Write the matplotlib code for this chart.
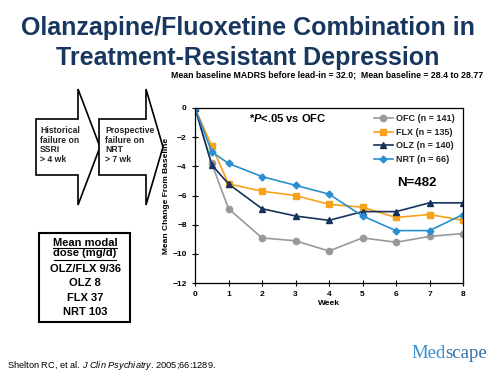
import matplotlib
matplotlib.use("Agg")
import matplotlib.pyplot as plt
from matplotlib.patches import Polygon, Rectangle

plt.rcParams['font.family'] = ['Liberation Sans', 'DejaVu Sans']
plt.rcParams['mathtext.fontset'] = 'custom'
plt.rcParams['mathtext.it'] = 'Liberation Sans:italic'
plt.rcParams['mathtext.bfit'] = 'Liberation Sans:italic:bold'
plt.rcParams['mathtext.rm'] = 'Liberation Sans'

weeks = [0, 0.5, 1, 2, 3, 4, 5, 6, 7, 8]
ofc = [0, -3.8, -6.9, -8.9, -9.1, -9.8, -8.9, -9.2, -8.8, -8.6]
flx = [0, -2.6, -5.2, -5.7, -6.0, -6.6, -6.8, -7.5, -7.3, -7.7]
olz = [0, -3.9, -5.2, -6.9, -7.4, -7.7, -7.1, -7.1, -6.5, -6.5]
nrt = [0, -3.0, -3.8, -4.7, -5.3, -5.9, -7.4, -8.4, -8.4, -7.3]
series_labels = ["OFC (n = 141)", "FLX (n = 135)", "OLZ (n = 140)", "NRT (n = 66)"]
dose_lines = ["OLZ/FLX 9/36", "OLZ 8", "FLX 37", "NRT 103"]

fig = plt.figure(figsize=(5, 3.75), dpi=100)

# overlay in pixel coordinates for the slide decorations
bg = fig.add_axes([0, 0, 1, 1])
bg.set_xlim(0, 500)
bg.set_ylim(375, 0)
bg.axis("off")

navy = "#17375e"
bg.text(248, 28, "Olanzapine/Fluoxetine Combination in", ha="center", va="center",
        fontsize=18, fontweight="bold", color=navy)
bg.text(248, 58, "Treatment-Resistant Depression", ha="center", va="center",
        fontsize=18, fontweight="bold", color=navy)
bg.text(483, 75, "Mean baseline MADRS before lead-in = 32.0;  Mean baseline = 28.4 to 28.77",
        ha="right", va="center", fontsize=6.3, fontweight="bold")

# arrows
for x0, x1, x2 in [(36, 78, 100), (99, 146, 163)]:
    pts = [(x0, 119), (x1, 119), (x1, 89), (x2, 147), (x1, 205), (x1, 175), (x0, 175)]
    bg.add_patch(Polygon(pts, closed=True, facecolor="white", edgecolor="black", lw=1.2))
bg.text(40, 126, "Historical\nfailure on\nSSRI\n> 4 wk", ha="left", va="top",
        fontsize=6.2, fontweight="bold", linespacing=1.1, color="#222222")
bg.text(105, 126, "Prospective\nfailure on\nNRT\n> 7 wk", ha="left", va="top",
        fontsize=6.2, fontweight="bold", linespacing=1.1, color="#222222")

# dose box
bg.add_patch(Rectangle((39, 233), 91, 89, facecolor="white", edgecolor="black", lw=1.5))
bg.text(85, 246, "Mean modal", ha="center", va="baseline", fontsize=8, fontweight="bold")
bg.text(85, 256.5, "dose (mg/d)", ha="center", va="baseline", fontsize=8, fontweight="bold")
bg.plot([53, 117], [248, 248], color="black", lw=0.8)
bg.plot([54, 116], [259.5, 259.5], color="black", lw=0.8)
for i, line in enumerate(dose_lines):
    bg.text(85, 269 + i * 14.3, line, ha="center", va="center", fontsize=8, fontweight="bold")

# footer
bg.text(7, 365, "Shelton RC, et al. $\\mathit{J\\ Clin\\ Psychiatry}$. 2005;66:1289.",
        ha="left", va="center", fontsize=6.7)

fig.canvas.draw()
r = fig.canvas.get_renderer()
med = bg.text(411, 353, "Med", ha="left", va="center", fontsize=13.5, family="Liberation Serif",
              color="#3a8fd0")
w = med.get_window_extent(renderer=r).width
bg.text(411 + w * 500 / fig.bbox.width, 353, "scape", ha="left", va="center", fontsize=13.5,
        family="Liberation Serif", color="#2e6ea8")

# chart
ax = fig.add_axes([0.39, 0.245, 0.536, 0.467])
ax.plot(weeks, ofc, color="#999999", marker="o", ms=4.5, lw=1.2, label=series_labels[0])
ax.plot(weeks, flx, color="#f7a21b", marker="s", ms=5, lw=1.2, label=series_labels[1])
ax.plot(weeks, olz, color="#16325c", marker="^", ms=5, lw=1.2, label=series_labels[2])
ax.plot(weeks, nrt, color="#2a8fcf", marker="D", ms=3.5, lw=1.2, label=series_labels[3])

ax.set_xlim(0, 8)
ax.set_ylim(-12, 0)
ax.set_xticks(range(0, 9))
ax.set_yticks(range(-12, 1, 2))
for s in ax.spines.values():
    s.set_linewidth(0.9)
ax.tick_params(direction="inout", length=5, labelsize=6, width=0.8)
for lbl in ax.get_xticklabels() + ax.get_yticklabels():
    lbl.set_fontweight("bold")
ax.set_xlabel("Week", fontsize=6, fontweight="bold", labelpad=1)
ax.set_ylabel("Mean Change From Baseline", fontsize=6, fontweight="bold", labelpad=2)

ax.text(1.62, -0.68, "*$\\mathbfit{P}$<.05 vs OFC", fontsize=8, fontweight="bold",
        ha="left", va="center")
ax.text(6.63, -5.14, "N=482", fontsize=9.5, fontweight="bold", ha="center", va="center")

leg = ax.legend(loc="upper right", bbox_to_anchor=(1.0, 1.01), frameon=False,
                fontsize=6.5, handlelength=2.0, labelspacing=0.5, handletextpad=0.4)
for t in leg.get_texts():
    t.set_fontweight("bold")
    t.set_color("#222222")

fig.savefig("out.png", dpi=100)
